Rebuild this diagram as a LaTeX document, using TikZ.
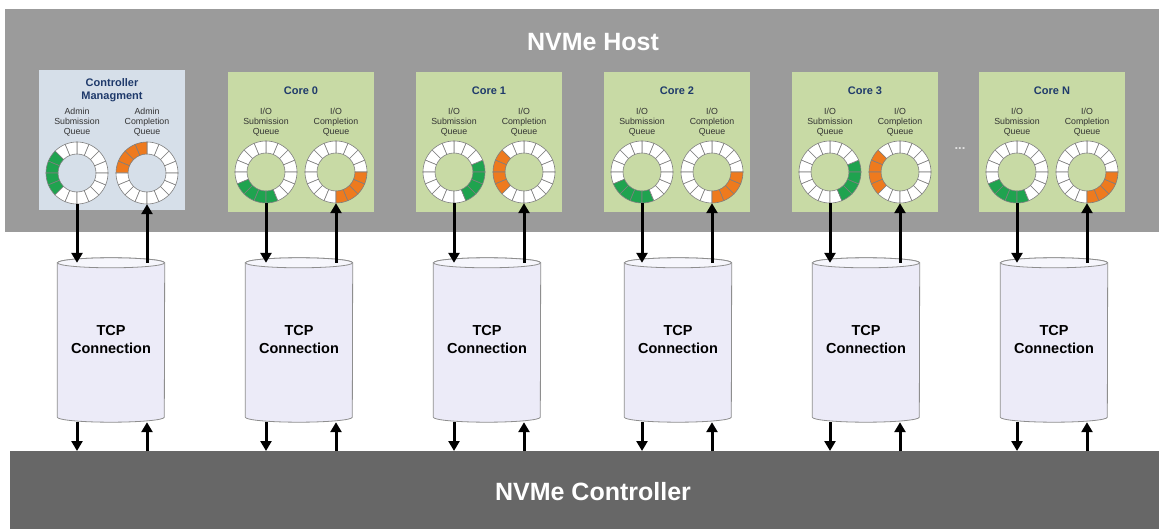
\documentclass[tikz,border=0pt]{standalone}
\usepackage{fontspec}
\setmainfont{Liberation Sans}
\usetikzlibrary{arrows.meta,calc}

\definecolor{hostgray}{HTML}{9B9B9B}
\definecolor{ctrlgray}{HTML}{676767}
\definecolor{mgmtblue}{HTML}{D6DFE9}
\definecolor{coregreen}{HTML}{C8DAA5}
\definecolor{titleblue}{HTML}{1F3A6B}
\definecolor{qgreen}{HTML}{1FA34F}
\definecolor{qorange}{HTML}{EE7A1E}
\definecolor{cylfill}{HTML}{ECEBF8}
\definecolor{cyltop}{HTML}{F6F6FC}
\definecolor{cylline}{HTML}{8E8E8E}
\definecolor{segline}{HTML}{7F7F7F}
\definecolor{labelgray}{HTML}{333333}

\tikzset{
  panel/.style={inner sep=0pt, minimum width=146pt, minimum height=140pt},
  boxtitle/.style={text=titleblue, font=\fontsize{11}{12.5}\selectfont\bfseries, align=center, inner sep=0pt},
  qlabel/.style={text=labelgray, font=\fontsize{8.8}{9.7}\selectfont, align=center, inner sep=0pt},
  ringnode/.style={circle, minimum size=62pt, inner sep=0pt},
  pipe/.style={inner sep=0pt, minimum width=107pt, minimum height=154pt, align=center,
    font=\fontsize{14.5}{18}\selectfont\bfseries},
  bigtext/.style={text=white, font=\fontsize{25}{29}\selectfont\bfseries, inner sep=0pt},
  flow/.style={line width=3pt, -{Triangle[length=10pt,width=11pt]}},
}

% queue ring: name, x, y, colour, first and last highlighted segment (16 segments, CCW from 0 deg)
\newcommand\queuering[6]{%
  \node[ringnode] (#1) at (#2,#3) {};
  \foreach \k in {0,...,15} {%
    \pgfmathtruncatemacro\rel{mod(\k-#5+16,16)}%
    \pgfmathtruncatemacro\len{mod(#6-#5+16,16)}%
    \ifnum\rel>\len \def\segc{white}\else \def\segc{#4}\fi
    \path[fill=\segc, draw=segline, line width=0.6pt]
      ($(#1)+(\k*22.5:31pt)$) arc[start angle=\k*22.5, end angle=\k*22.5+22.5, radius=31pt]
      -- ($(#1)+(\k*22.5+22.5:19pt)$) arc[start angle=\k*22.5+22.5, end angle=\k*22.5, radius=19pt]
      -- cycle;
  }%
}

\begin{document}
\begin{tikzpicture}[x=1pt, y=-1pt]
  \useasboundingbox (0,0) rectangle (1159,529);
  \fill[white] (0,0) rectangle (1159,529);

  % host and controller bands
  \node[fill=hostgray, inner sep=0pt, minimum width=1154pt, minimum height=223pt, anchor=north west] (host) at (5,9) {};
  \node[bigtext] (hostlabel) at (593,42) {NVMe Host};
  \node[fill=ctrlgray, inner sep=0pt, minimum width=1149pt, minimum height=78pt, anchor=north west] (nvmectrl) at (10,451) {};
  \node[bigtext] (ctrllabel) at (593,492) {NVMe Controller};

  % panels
  \node[panel, fill=mgmtblue] (b0) at (112,140) {};
  \node[boxtitle] (h0) at (112,90) {Controller\\Managment};
  \foreach \n/\cx/\lbl in {1/301/Core 0, 2/489/Core 1, 3/677/Core 2, 4/865/Core 3, 5/1052/Core N} {
    \node[panel, fill=coregreen] (b\n) at (\cx,142) {};
    \node[boxtitle] (h\n) at (\cx,91) {\lbl};
  }
  \node[text=white!88!black, font=\fontsize{13}{14}\selectfont\bfseries, inner sep=0pt] (more) at (960,149) {...};

  % queue labels
  \node[qlabel] (ls0) at (77,122) {Admin\\Submission\\Queue};
  \node[qlabel] (lc0) at (147,122) {Admin\\Completion\\Queue};
  \foreach \n/\cx in {1/301, 2/489, 3/677, 4/865, 5/1052} {
    \node[qlabel] (ls\n) at (\cx-35,122) {I/O\\Submission\\Queue};
    \node[qlabel] (lc\n) at (\cx+35,122) {I/O\\Completion\\Queue};
  }

  % queue rings
  \queuering{s0}{77}{173}{qgreen}{6}{9}
  \queuering{c0}{147}{173}{qorange}{4}{7}
  \queuering{s1}{266}{172}{qgreen}{9}{12}
  \queuering{c1}{336}{172}{qorange}{12}{15}
  \queuering{s2}{454}{172}{qgreen}{13}{0}
  \queuering{c2}{524}{172}{qorange}{6}{9}
  \queuering{s3}{642}{172}{qgreen}{9}{12}
  \queuering{c3}{712}{172}{qorange}{12}{15}
  \queuering{s4}{830}{172}{qgreen}{13}{0}
  \queuering{c4}{900}{172}{qorange}{6}{9}
  \queuering{s5}{1017}{172}{qgreen}{9}{12}
  \queuering{c5}{1087}{172}{qorange}{12}{15}

  % TCP connections
  \foreach \n/\cx in {0/111, 1/299, 2/487, 3/678, 4/866, 5/1054} {
    \node[pipe] (t\n) at (\cx,340) {};
    \path[fill=cylfill, draw=cylline, line width=0.8pt]
      (t\n.north west) -- (t\n.south west)
      arc[start angle=180, end angle=360, x radius=53.5pt, y radius=5pt]
      -- (t\n.north east)
      arc[start angle=0, end angle=180, x radius=53.5pt, y radius=5pt] -- cycle;
    \path[fill=cyltop, draw=cylline, line width=0.8pt] (t\n.north) ellipse[x radius=53.5pt, y radius=5pt];
    \node[pipe] (tt\n) at (t\n) {TCP\\Connection};
  }

  % data flow
  \foreach \n in {0,...,5} {
    \draw[flow] (s\n.south) -- (s\n.south |- t\n.north);
    \draw[flow] (c\n.south |- t\n.north) -- (c\n.south);
    \draw[flow] ($(s\n.south |- t\n.south)+(0,-5pt)$) -- (s\n.south |- nvmectrl.north);
    \draw[flow] (c\n.south |- nvmectrl.north) -- ($(c\n.south |- t\n.south)+(0,-5pt)$);
  }
\end{tikzpicture}
\end{document}
